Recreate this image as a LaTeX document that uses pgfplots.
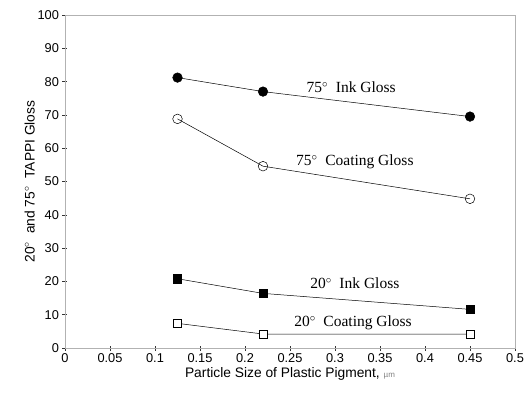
\documentclass[border=0pt]{standalone}
\usepackage{pgfplots}
\pgfplotsset{compat=1.18}
\usepackage{fontspec}
\setmainfont{Liberation Sans}
\newfontfamily\seriffont{Liberation Serif}
\begin{document}
\begin{tikzpicture}
\begin{axis}[
  at={(0,0)}, anchor=south west,
  scale only axis, width=450pt, height=333pt,
  xmin=0, xmax=0.5, ymin=0, ymax=100,
  xtick={0,0.05,...,0.5}, ytick={0,10,...,100},
  xtick pos=bottom, ytick pos=left,
  tick align=center, major tick length=5pt,
  axis line style={gray!60, line width=0.5pt},
  every tick/.style={black!80, line width=0.5pt},
  /pgf/number format/assume math mode=true,
  xticklabel style={/pgf/number format/fixed, /pgf/number format/precision=2},
  tick label style={font=\fontsize{12.8}{14}\selectfont},
  label style={font=\fontsize{13.8}{15}\selectfont},
  xlabel={Particle Size of Plastic Pigment, {\fontsize{8}{9}\selectfont\color{gray}µm}},
  ylabel={20$^\circ$\ \ and 75$^\circ$\ \ TAPPI Gloss},
  xlabel style={yshift=2pt},
  ylabel style={yshift=-4pt},
  clip=false,
  every axis plot/.append style={black, line width=0.5pt, mark size=4.8pt},
]
\addplot[mark=*, mark options={fill=black}] coordinates {(0.125,81.2) (0.22,77.0) (0.45,69.5)};
\addplot[mark=o, mark options={fill=white}] coordinates {(0.125,68.8) (0.22,54.6) (0.45,44.8)};
\addplot[mark=square*, mark options={fill=black, mark size=4.1pt}] coordinates {(0.125,20.8) (0.22,16.4) (0.45,11.6)};
\addplot[mark=square*, mark options={fill=white, mark size=4.1pt}] coordinates {(0.125,7.4) (0.22,4.2) (0.45,4.2)};
\node[font=\seriffont\fontsize{15.5}{17}\selectfont] at (axis cs:0.318,78.3) {75$^\circ$\ \ Ink Gloss};
\node[font=\seriffont\fontsize{15.5}{17}\selectfont] at (axis cs:0.322,55.8) {75$^\circ$\ \ Coating Gloss};
\node[font=\seriffont\fontsize{15.5}{17}\selectfont] at (axis cs:0.322,19.4) {20$^\circ$\ \ Ink Gloss};
\node[font=\seriffont\fontsize{15.5}{17}\selectfont] at (axis cs:0.320,7.5) {20$^\circ$\ \ Coating Gloss};
\end{axis}
\pgfresetboundingbox
\path[use as bounding box] (-65pt,-46pt) rectangle (464pt,348pt);
\end{tikzpicture}
\end{document}
